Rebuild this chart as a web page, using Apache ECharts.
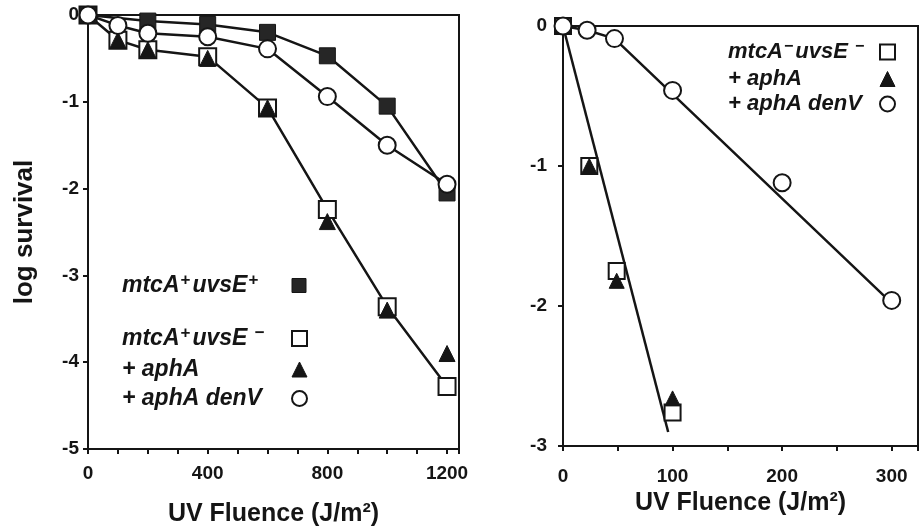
<!DOCTYPE html>
<html>
<head>
<meta charset="utf-8">
<script src="https://cdn.jsdelivr.net/npm/echarts@6/dist/echarts.min.js"></script>
<style>
html,body{margin:0;padding:0;background:#fff;}
#chart{width:921px;height:532px;}
</style>
</head>
<body>
<div id="chart"></div>
<script>
// ---------- Left panel data (UV fluence J/m^2, log survival) ----------
const leftXTicks = [0, 400, 800, 1200];
const wtX = [0, 200, 400, 600, 800, 1000, 1200];
const wtY = [0, -0.07, -0.11, -0.2, -0.47, -1.05, -2.05];          // mtcA+ uvsE+
const leftX = [0, 100, 200, 400, 600, 800, 1000, 1200];
const uvsEY = [0, -0.29, -0.4, -0.48, -1.07, -2.24, -3.36, -4.28];  // mtcA+ uvsE-
const aphAY = [0, -0.29, -0.4, -0.5, -1.07, -2.38, -3.4, -3.9];     // + aphA
const denVY = [0, -0.12, -0.21, -0.25, -0.39, -0.94, -1.5, -1.95];  // + aphA denV

// ---------- Right panel data ----------
const rightXTicks = [0, 100, 200, 300];
const dblX = [0, 24, 49, 100];
const dblY = [0, -1.0, -1.75, -2.76];       // mtcA- uvsE-
const dblAphAY = [0, -1.0, -1.82, -2.66];   // + aphA
const rDenVX = [0, 22, 47, 100, 200, 300];
const rDenVY = [0, -0.03, -0.09, -0.46, -1.12, -1.96]; // + aphA denV
const steepFitX = [0, 96];
const steepFitY = [0, -2.9];
const denVFitX = [0, 22, 47, 300];
const denVFitY = [0, -0.03, -0.09, -1.98];

const zip = (xs, ys) => xs.map((x, i) => [x, ys[i]]);

const INK = '#151515';
const FONT = '"Liberation Sans", Arial, Helvetica, sans-serif';

const openStyle = {color: '#fff', borderColor: INK, borderWidth: 2, opacity: 1};
const filledStyle = {color: '#262626', borderColor: INK, borderWidth: 1, opacity: 1};
const triStyle = {color: INK, borderColor: INK, borderWidth: 1, opacity: 1};

const richBase = {fontFamily: FONT, fontStyle: 'italic', fontWeight: 'bold', color: INK, align: 'left'};
function legendRich(size, lh) {
  const ss = Math.round(size * 0.72);
  return {
    t: Object.assign({}, richBase, {fontSize: size, lineHeight: lh}),
    s: Object.assign({}, richBase, {fontStyle: 'normal', fontSize: ss, lineHeight: 12, padding: [0, 2, 10, 1]})
  };
}
function legendFormatter(name) {
  const map = {
    'mtcA+uvsE+': '{t|mtcA}{s|+}{t|uvsE}{s|+}',
    'mtcA+uvsE-': '{t|mtcA}{s|+}{t|uvsE }{s|−}',
    'mtcA-uvsE-': '{t|mtcA}{s|−}{t|uvsE }{s|−}',
    '+ aphA': '{t|+ aphA}',
    '+ aphA denV': '{t|+ aphA denV}'
  };
  return map[name] || name;
}

const axisLabelStyle = {fontFamily: FONT, fontWeight: 'bold', fontSize: 19, color: INK};
const axisNameStyle = {fontFamily: FONT, fontWeight: 'bold', fontSize: 25, color: INK};
const axisLineStyle = {show: true, onZero: false, lineStyle: {color: INK, width: 2}};
const tickStyle = {show: true, inside: false, length: 5, lineStyle: {color: INK, width: 2}};

const option = {
  backgroundColor: '#fff',
  animation: false,
  grid: [
    {left: 88, top: 15, width: 371, height: 435, show: true, borderColor: INK, borderWidth: 2, backgroundColor: 'transparent'},
    {left: 563, top: 26, width: 357, height: 420, show: true, borderColor: INK, borderWidth: 2, backgroundColor: 'transparent'}
  ],
  xAxis: [
    {
      gridIndex: 0, type: 'value', min: 0, max: 1240, interval: 100,
      axisLine: axisLineStyle, axisTick: tickStyle, splitLine: {show: false},
      axisLabel: Object.assign({}, axisLabelStyle, {margin: 15,
        formatter: v => leftXTicks.indexOf(v) >= 0 ? String(v) : ''}),
      name: 'UV Fluence (J/m²)', nameLocation: 'middle', nameGap: 53, nameTextStyle: axisNameStyle
    },
    {
      gridIndex: 1, type: 'value', min: 0, max: 324, interval: 50,
      axisLine: axisLineStyle, axisTick: tickStyle, splitLine: {show: false},
      axisLabel: Object.assign({}, axisLabelStyle, {margin: 21,
        formatter: v => rightXTicks.indexOf(v) >= 0 ? String(v) : ''}),
      name: 'UV Fluence (J/m²)', nameLocation: 'middle', nameGap: 43, nameTextStyle: axisNameStyle
    }
  ],
  yAxis: [
    {
      gridIndex: 0, type: 'value', min: -5, max: 0, interval: 1,
      axisLine: axisLineStyle, axisTick: tickStyle, splitLine: {show: false},
      axisLabel: Object.assign({}, axisLabelStyle, {margin: 9}),
      name: 'log survival', nameLocation: 'middle', nameRotate: 90, nameGap: 50,
      nameTextStyle: Object.assign({}, axisNameStyle, {fontSize: 26})
    },
    {
      gridIndex: 1, type: 'value', min: -3, max: 0, interval: 1,
      axisLine: axisLineStyle, axisTick: tickStyle, splitLine: {show: false},
      axisLabel: Object.assign({}, axisLabelStyle, {margin: 16})
    }
  ],
  legend: [
    {
      data: [{name: 'mtcA+uvsE+', icon: 'rect', itemStyle: filledStyle}],
      left: 122, top: 272, padding: 0, orient: 'vertical', align: 'right',
      itemWidth: 14, itemHeight: 14, itemGap: 4, selectedMode: false,
      formatter: legendFormatter,
      textStyle: {width: 165, rich: legendRich(23, 26)}
    },
    {
      data: [
        {name: 'mtcA+uvsE-', icon: 'rect', itemStyle: openStyle},
        {name: '+ aphA', icon: 'triangle', itemStyle: triStyle},
        {name: '+ aphA denV', icon: 'circle', itemStyle: openStyle}
      ],
      left: 122, top: 325, padding: 0, orient: 'vertical', align: 'right',
      itemWidth: 15, itemHeight: 15, itemGap: 6, selectedMode: false,
      formatter: legendFormatter,
      textStyle: {width: 165, rich: legendRich(23, 26)}
    },
    {
      data: [
        {name: 'mtcA-uvsE-', icon: 'rect', itemStyle: openStyle},
        {name: '+ aphA', icon: 'triangle', itemStyle: triStyle},
        {name: '+ aphA denV', icon: 'circle', itemStyle: openStyle}
      ],
      left: 728, top: 39, padding: 0, orient: 'vertical', align: 'right',
      itemWidth: 15, itemHeight: 15, itemGap: 3, selectedMode: false,
      formatter: legendFormatter,
      textStyle: {width: 147, rich: legendRich(22, 24)}
    }
  ],
  series: [
    // ----- left panel -----
    {
      name: 'mtcA+uvsE-', type: 'line', xAxisIndex: 0, yAxisIndex: 0,
      data: zip(leftX, uvsEY), symbol: 'rect', symbolSize: 17,
      itemStyle: openStyle, lineStyle: {color: INK, width: 2.5}, z: 3
    },
    {
      name: '+ aphA', type: 'scatter', xAxisIndex: 0, yAxisIndex: 0,
      data: zip(leftX, aphAY), symbol: 'triangle', symbolSize: 16,
      itemStyle: triStyle, z: 4
    },
    {
      name: 'mtcA+uvsE+', type: 'line', xAxisIndex: 0, yAxisIndex: 0,
      data: zip(wtX, wtY), symbol: 'rect', symbolSize: 16,
      itemStyle: filledStyle, lineStyle: {color: INK, width: 2.5}, z: 5
    },
    {
      name: '+ aphA denV', type: 'line', xAxisIndex: 0, yAxisIndex: 0,
      data: zip(leftX, denVY), symbol: 'circle', symbolSize: 17,
      itemStyle: openStyle, lineStyle: {color: INK, width: 2.5}, z: 6
    },
    // ----- right panel -----
    {
      name: 'fit uvsE-', type: 'line', xAxisIndex: 1, yAxisIndex: 1,
      data: zip(steepFitX, steepFitY), symbol: 'none',
      lineStyle: {color: INK, width: 2.5}, z: 2
    },
    {
      name: 'fit denV', type: 'line', xAxisIndex: 1, yAxisIndex: 1,
      data: zip(denVFitX, denVFitY), symbol: 'none',
      lineStyle: {color: INK, width: 2.5}, z: 2
    },
    {
      name: 'mtcA-uvsE-', type: 'scatter', xAxisIndex: 1, yAxisIndex: 1,
      data: zip(dblX, dblY), symbol: 'rect', symbolSize: 16,
      itemStyle: openStyle, z: 3
    },
    {
      name: '+ aphA', type: 'scatter', xAxisIndex: 1, yAxisIndex: 1,
      data: zip(dblX, dblAphAY), symbol: 'triangle', symbolSize: 15,
      itemStyle: triStyle, z: 4
    },
    {
      name: '+ aphA denV', type: 'scatter', xAxisIndex: 1, yAxisIndex: 1,
      data: zip(rDenVX, rDenVY), symbol: 'circle', symbolSize: 17,
      itemStyle: openStyle, z: 5
    }
  ]
};

const chart = echarts.init(document.getElementById('chart'), null, {renderer: 'canvas'});
chart.setOption(option);
</script>
</body>
</html>
